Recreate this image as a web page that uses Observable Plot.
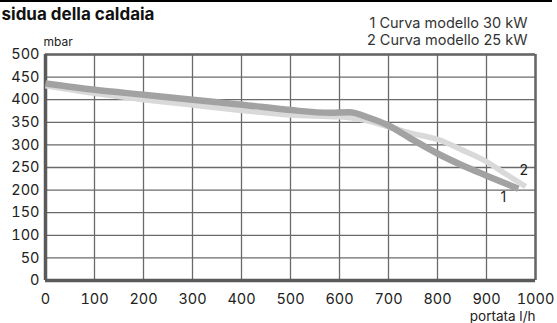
<!DOCTYPE html>
<html>
<head>
<meta charset="utf-8">
<script src="https://cdn.jsdelivr.net/npm/d3@7"></script>
<script src="https://cdn.jsdelivr.net/npm/@observablehq/plot@0.6"></script>
<style>
  body { margin: 0; background: #fff; }
  #wrap { position: relative; width: 557px; height: 323px; overflow: hidden; }
  #topline { position: absolute; left: 0; top: 0; width: 552px; height: 2px; background: #000; }
  #chart { position: absolute; left: 0; top: 0; }
</style>
</head>
<body>
<div id="wrap"><div id="chart"></div><div id="topline"></div></div>
<script>
// Curve 1: modello 30 kW (darker)
const flow1 = [0, 100, 200, 300, 400, 500, 580, 620, 660, 700, 750, 800, 850, 900, 965];
const press1 = [436, 422, 411, 400, 389, 377, 371, 372, 360, 343, 311, 281, 255, 232, 203];
// Curve 2: modello 25 kW (lighter)
const flow2 = [0, 100, 200, 300, 400, 500, 600, 650, 700, 750, 800, 850, 900, 940, 980];
const press2 = [431, 414, 400, 388, 376, 366, 362, 355, 340, 325, 312, 289, 263, 235, 208];

const xTicks = [0, 100, 200, 300, 400, 500, 600, 700, 800, 900, 1000];
const yTicks = [0, 50, 100, 150, 200, 250, 300, 350, 400, 450, 500];

const titleText = "sidua della caldaia";
const legendLabels = ["1 Curva modello 30 kW", "2 Curva modello 25 kW"];
const curveNames = ["1", "2"];
const yLabel = "mbar";
const xLabel = "portata l/h";

const s1 = flow1.map((f, i) => ({flow: f, p: press1[i]}));
const s2 = flow2.map((f, i) => ({flow: f, p: press2[i]}));
const ends = [
  {flow: flow1[flow1.length - 1], p: press1[press1.length - 1], name: curveNames[0]},
  {flow: flow2[flow2.length - 1], p: press2[press2.length - 1], name: curveNames[1]}
];

const font = "Inter, 'Open Sans', sans-serif";
const gridColor = "#6a6a6a";

const chart = Plot.plot({
  width: 557,
  height: 323,
  marginLeft: 45,
  marginRight: 22,
  marginTop: 54,
  marginBottom: 43,
  style: {fontFamily: font, fontSize: "14.5px", color: "#222", background: "#fff"},
  x: {domain: [0, 1000]},
  y: {domain: [0, 500]},
  marks: [
    Plot.ruleX(xTicks, {stroke: gridColor, strokeWidth: 1.3}),
    Plot.ruleY(yTicks, {stroke: gridColor, strokeWidth: 1.3}),
    Plot.ruleX([1000], {stroke: "#666", strokeWidth: 2.5}),
    Plot.ruleY([500], {stroke: "#666", strokeWidth: 2.5}),
    Plot.ruleX([0], {stroke: "#5a5a5a", strokeWidth: 3.5}),
    Plot.ruleY([0], {stroke: "#5a5a5a", strokeWidth: 3.5}),
    Plot.line(s2, {x: "flow", y: "p", stroke: "#d9d9d9", strokeWidth: 5.5, curve: "monotone-x", strokeLinecap: "butt"}),
    Plot.line(s1, {x: "flow", y: "p", stroke: "#a2a2a2", strokeWidth: 6.5, curve: "monotone-x", strokeLinecap: "butt"}),
    Plot.text([ends[0]], {x: "flow", y: "p", text: "name", dx: -15, dy: 9, fontSize: 14, fill: "#222"}),
    Plot.text([ends[1]], {x: "flow", y: "p", text: "name", dx: -2, dy: -16, fontSize: 14, fill: "#222"}),
    Plot.axisX({ticks: xTicks, tickSize: 0, tickPadding: 13, tickFormat: d => String(d), label: null, fontSize: 14.5}),
    Plot.axisY({ticks: yTicks, tickSize: 0, tickPadding: 6, tickFormat: d => String(d), label: null, fontSize: 14.5}),
    Plot.text([yLabel], {frameAnchor: "top-left", dx: -2, dy: -9, textAnchor: "start", lineAnchor: "bottom", fontSize: 12, fill: "#222"}),
    Plot.text([xLabel], {frameAnchor: "bottom-right", dx: 0, dy: 40, textAnchor: "end", lineAnchor: "bottom", fontSize: 13.5, fill: "#222"}),
    Plot.text([titleText], {frameAnchor: "top-left", dx: -44, dy: -35, textAnchor: "start", lineAnchor: "bottom", fontSize: 17, fontWeight: "bold", fill: "#111"}),
    Plot.text([legendLabels.join("\n")], {frameAnchor: "top-right", dx: -8, dy: -9.5, textAnchor: "end", lineAnchor: "bottom", lineHeight: 17.5 / 14.5, fontSize: 14.5, fill: "#333"})
  ]
});
document.getElementById("chart").appendChild(chart);
</script>
</body>
</html>
